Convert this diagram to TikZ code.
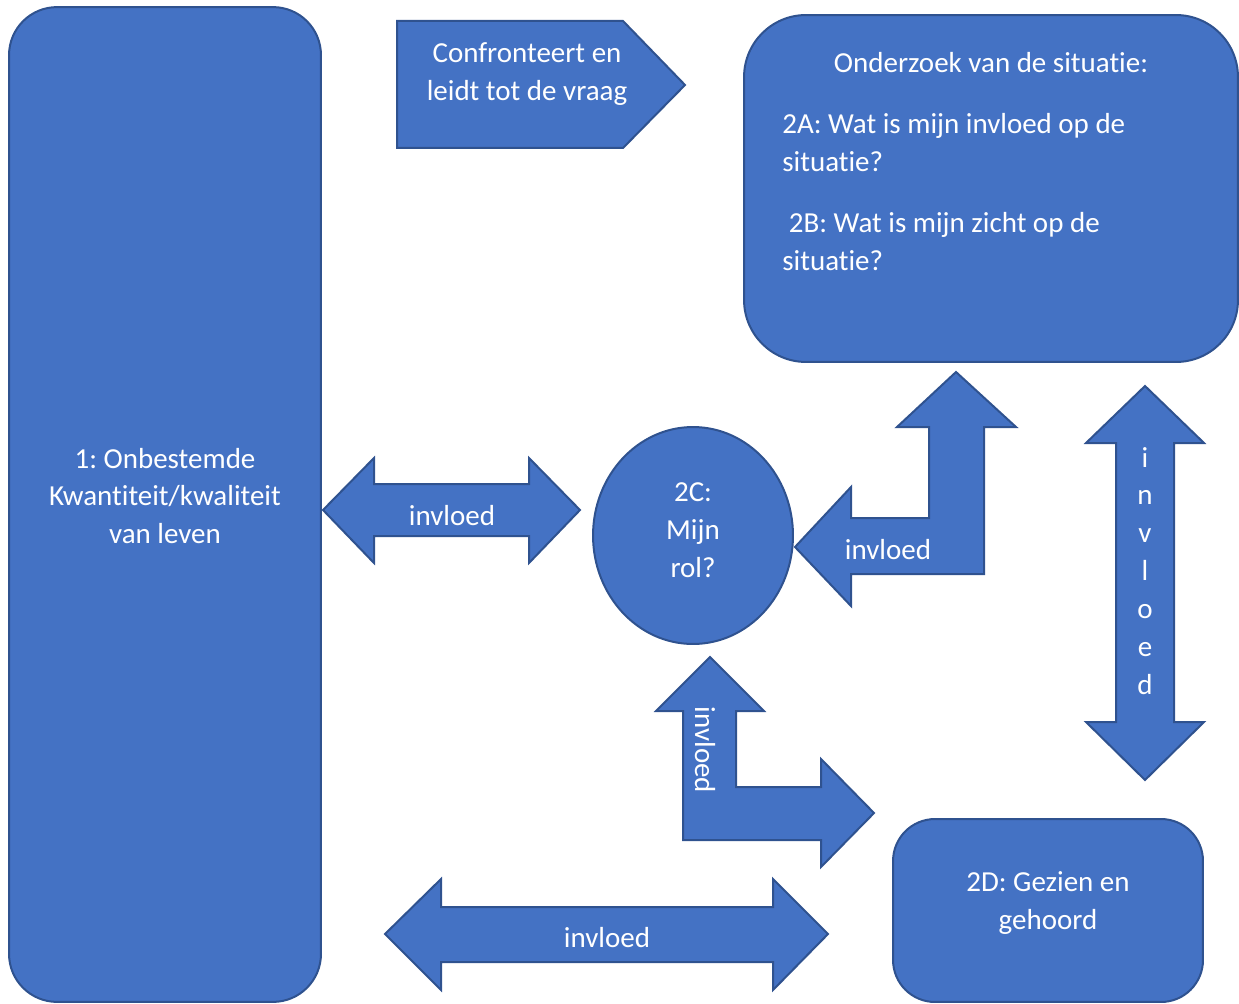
\documentclass[tikz,border=0pt]{standalone}
\usepackage{fontspec}
\setmainfont{Carlito}[Ligatures=NoCommon]
\usetikzlibrary{shapes.geometric}
\definecolor{blokblauw}{HTML}{4472C4}
\definecolor{randblauw}{HTML}{2F528F}
\tikzset{
  blok/.style={fill=blokblauw,draw=randblauw,line width=0.04cm},
  tekst/.style={text=white,font=\fontsize{16.5}{21.6}\selectfont,align=center,inner sep=0pt}
}
\frenchspacing
\begin{document}
\begin{tikzpicture}[x=0.02cm,y=-0.02cm]
  \useasboundingbox (0,0) rectangle (1239,1003);

  \node[blok,rounded corners=0.96cm,minimum width=6.24cm,minimum height=19.9cm] (leven) at (165,504.5) {};
  \node[tekst] (levenTekst) at (165,496) {1: Onbestemde\\Kwantiteit/kwaliteit\\van leven};

  \draw[blok] (397,21) -- (623,21) -- (685,85) -- (623,148) -- (397,148) -- cycle;
  \node[tekst] (vraag) at (527,74) {Confronteert en\\leidt tot de vraag};

  \node[blok,rounded corners=1.24cm,minimum width=9.88cm,minimum height=6.94cm] (situatie) at (991,188.5) {};
  \node[tekst] (situatieKop) at (991,63) {Onderzoek van de situatie:};
  \node[tekst,anchor=west,align=left] (vraagA) at (782,143) {2A: Wat is mijn invloed op de\\situatie?};
  \node[tekst,anchor=west,align=left] (vraagB) at (782,242) {\ 2B: Wat is mijn zicht op de\\situatie?};

  \node[blok,ellipse,minimum width=4cm,minimum height=4.34cm] (rol) at (693,535.5) {};
  \node[tekst] (rolTekst) at (693,530) {2C:\\Mijn\\rol?};

  \node[blok,rounded corners=0.84cm,minimum width=6.2cm,minimum height=3.66cm] (gezien) at (1048,910.5) {};
  \node[tekst] (gezienTekst) at (1048,903) {2D: Gezien en\\gehoord};

  \draw[blok] (323,510) -- (374,458) -- (374,484) -- (529,484) -- (529,458) -- (580,510)
    -- (529,563) -- (529,536) -- (374,536) -- (374,563) -- cycle;
  \node[tekst] (invloedA) at (452,516) {invloed};

  \draw[blok] (795,547) -- (851,487) -- (851,518) -- (929,518) -- (929,427) -- (897,427)
    -- (956,372) -- (1016,427) -- (984,427) -- (984,574) -- (851,574) -- (851,606) -- cycle;
  \node[tekst] (invloedB) at (888,550) {invloed};

  \draw[blok] (1145,386) -- (1204,443) -- (1174,443) -- (1174,722) -- (1204,722) -- (1145,780)
    -- (1086,722) -- (1116,722) -- (1116,443) -- (1086,443) -- cycle;
  \node[tekst] (invloedC) at (1145,571) {i\\n\\v\\l\\o\\e\\d};

  \draw[blok] (710,657) -- (764,711) -- (736,711) -- (736,787) -- (821,787) -- (821,759)
    -- (874,813) -- (821,867) -- (821,840) -- (683,840) -- (683,711) -- (656,711) -- cycle;
  \node[tekst,rotate=-90] (invloedD) at (705,750) {invloed};

  \draw[blok] (385,934) -- (441,879) -- (441,907) -- (773,907) -- (773,879) -- (828,934)
    -- (773,990) -- (773,962) -- (441,962) -- (441,990) -- cycle;
  \node[tekst] (invloedE) at (607,938) {invloed};

\end{tikzpicture}
\end{document}
